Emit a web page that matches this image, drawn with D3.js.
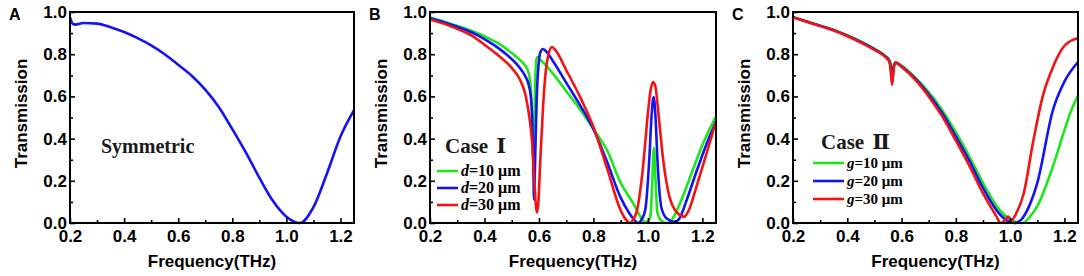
<!DOCTYPE html>
<html>
<head>
<meta charset="utf-8">
<script src="https://cdn.jsdelivr.net/npm/d3@7"></script>
<style>
  body { margin: 0; background: #fff; }
  text { font-family: Arial, "Liberation Sans", sans-serif; }
</style>
</head>
<body>
<svg id="chart" width="1084" height="276"></svg>
<script>
// axis ticks
const xMajor = [0.2, 0.4, 0.6, 0.8, 1.0, 1.2];
const xMinor = [0.3, 0.5, 0.7, 0.9, 1.1];
const yMajor = [0.0, 0.2, 0.4, 0.6, 0.8, 1.0];
const yMinor = [0.1, 0.3, 0.5, 0.7, 0.9];

// panel A: symmetric structure, [frequency THz, transmission]
const symmetric = [
  [0.20, 0.975], [0.21, 0.945], [0.22, 0.94], [0.25, 0.948], [0.30, 0.945],
  [0.35, 0.928], [0.40, 0.905], [0.45, 0.876], [0.50, 0.842], [0.55, 0.80],
  [0.60, 0.75], [0.65, 0.698], [0.70, 0.632], [0.75, 0.55], [0.80, 0.445],
  [0.85, 0.335], [0.90, 0.215], [0.95, 0.105], [1.00, 0.03], [1.05, 0.0],
  [1.10, 0.075], [1.15, 0.235], [1.20, 0.41], [1.25, 0.535]
];

// panel B: case I, varying d
const caseI_d10 = [
  [0.20, 0.975], [0.25, 0.955], [0.30, 0.935], [0.35, 0.912], [0.40, 0.885],
  [0.45, 0.852], [0.50, 0.806], [0.53, 0.773], [0.55, 0.745], [0.56, 0.72],
  [0.567, 0.68], [0.572, 0.6], [0.576, 0.45], [0.579, 0.3], [0.582, 0.4],
  [0.586, 0.65], [0.59, 0.77], [0.594, 0.787], [0.60, 0.78], [0.62, 0.755],
  [0.65, 0.71], [0.70, 0.625], [0.75, 0.54], [0.80, 0.445], [0.85, 0.345],
  [0.90, 0.19], [0.95, 0.085], [0.97, 0.035], [0.99, 0.005], [1.002, 0.01],
  [1.01, 0.04], [1.016, 0.2], [1.022, 0.355], [1.028, 0.2], [1.035, 0.05],
  [1.05, 0.01], [1.07, 0.0], [1.09, 0.02], [1.12, 0.1], [1.15, 0.2],
  [1.20, 0.37], [1.25, 0.505]
];
const caseI_d20 = [
  [0.20, 0.97], [0.25, 0.952], [0.30, 0.93], [0.35, 0.905], [0.40, 0.872],
  [0.45, 0.83], [0.50, 0.777], [0.53, 0.735], [0.55, 0.695], [0.56, 0.665],
  [0.57, 0.6], [0.575, 0.5], [0.579, 0.3], [0.582, 0.11], [0.586, 0.3],
  [0.592, 0.6], [0.60, 0.77], [0.607, 0.815], [0.615, 0.825], [0.625, 0.815],
  [0.65, 0.77], [0.70, 0.665], [0.75, 0.56], [0.80, 0.445], [0.85, 0.29],
  [0.90, 0.12], [0.93, 0.05], [0.95, 0.015], [0.964, 0.0], [0.978, 0.02],
  [0.99, 0.06], [1.005, 0.3], [1.013, 0.5], [1.021, 0.597], [1.028, 0.5],
  [1.035, 0.3], [1.05, 0.07], [1.07, 0.02], [1.10, 0.005], [1.115, 0.02],
  [1.14, 0.1], [1.18, 0.25], [1.22, 0.39], [1.25, 0.48]
];
const caseI_d30 = [
  [0.20, 0.965], [0.25, 0.945], [0.30, 0.92], [0.35, 0.89], [0.40, 0.845],
  [0.45, 0.795], [0.50, 0.735], [0.53, 0.68], [0.55, 0.61], [0.565, 0.5],
  [0.575, 0.38], [0.583, 0.2], [0.589, 0.08], [0.593, 0.05], [0.598, 0.1],
  [0.605, 0.3], [0.615, 0.55], [0.625, 0.72], [0.635, 0.8], [0.648, 0.834],
  [0.66, 0.82], [0.70, 0.725], [0.75, 0.6], [0.80, 0.455], [0.85, 0.26],
  [0.90, 0.06], [0.92, 0.015], [0.934, 0.0], [0.945, 0.015], [0.96, 0.06],
  [0.98, 0.24], [1.00, 0.52], [1.01, 0.63], [1.019, 0.668], [1.027, 0.65],
  [1.04, 0.5], [1.056, 0.3], [1.08, 0.12], [1.10, 0.06], [1.133, 0.03],
  [1.15, 0.06], [1.18, 0.18], [1.22, 0.35], [1.25, 0.48]
];

// panel C: case II, varying g
const caseII_g10 = [
  [0.20, 0.975], [0.25, 0.955], [0.30, 0.935], [0.35, 0.915], [0.40, 0.89],
  [0.45, 0.86], [0.50, 0.826], [0.54, 0.792], [0.555, 0.772], [0.562, 0.745],
  [0.566, 0.72], [0.571, 0.745], [0.578, 0.76], [0.60, 0.745], [0.65, 0.69],
  [0.70, 0.62], [0.75, 0.535], [0.80, 0.43], [0.85, 0.315], [0.90, 0.19],
  [0.95, 0.08], [1.00, 0.018], [1.045, 0.0], [1.07, 0.025], [1.10, 0.08],
  [1.158, 0.27], [1.20, 0.44], [1.219, 0.513], [1.25, 0.605]
];
const caseII_g20 = [
  [0.20, 0.975], [0.25, 0.955], [0.30, 0.935], [0.35, 0.914], [0.40, 0.888],
  [0.45, 0.858], [0.50, 0.823], [0.54, 0.79], [0.555, 0.768], [0.561, 0.73],
  [0.566, 0.68], [0.571, 0.74], [0.578, 0.76], [0.60, 0.743], [0.65, 0.685],
  [0.70, 0.61], [0.75, 0.52], [0.80, 0.41], [0.85, 0.295], [0.90, 0.166],
  [0.95, 0.06], [0.99, 0.01], [1.015, 0.0], [1.04, 0.015], [1.07, 0.08],
  [1.10, 0.19], [1.158, 0.537], [1.20, 0.67], [1.25, 0.763]
];
const caseII_g30 = [
  [0.20, 0.975], [0.25, 0.954], [0.30, 0.933], [0.35, 0.912], [0.40, 0.885],
  [0.45, 0.855], [0.50, 0.82], [0.54, 0.787], [0.555, 0.765], [0.56, 0.72],
  [0.565, 0.655], [0.571, 0.73], [0.578, 0.76], [0.60, 0.74], [0.65, 0.68],
  [0.70, 0.6], [0.75, 0.505], [0.80, 0.39], [0.85, 0.27], [0.90, 0.14],
  [0.95, 0.03], [0.965, 0.0], [0.98, 0.012], [0.993, 0.03], [1.005, 0.012],
  [1.02, 0.04], [1.05, 0.14], [1.084, 0.38], [1.12, 0.6], [1.158, 0.74],
  [1.20, 0.84], [1.25, 0.877]
];

const green = "#1ee61e", blue = "#1414f0", red = "#f01414";
const serif = "'Liberation Serif', 'Times New Roman', serif";

const svg = d3.select("#chart");
const plotTop = 12, plotBottom = 223;

function drawPanel(opts) {
  const x = d3.scaleLinear().domain([0.2, 1.25]).range([opts.left, opts.right]);
  const y = d3.scaleLinear().domain([0, 1]).range([plotBottom, plotTop]);
  const g = svg.append("g");

  // curves
  const line = d3.line()
    .x(d => x(d[0]))
    .y(d => y(d[1]))
    .curve(d3.curveMonotoneX);
  opts.series.forEach(s => {
    g.append("path")
      .datum(s.data)
      .attr("fill", "none")
      .attr("stroke", s.color)
      .attr("stroke-width", 2.6)
      .attr("stroke-linejoin", "round")
      .attr("d", line);
  });

  // x axis (inward ticks)
  const xa = g.append("g").attr("transform", `translate(0,${plotBottom})`);
  xa.call(d3.axisBottom(x).tickValues(xMajor).tickSize(-5).tickPadding(7)
    .tickFormat(d3.format(".1f")));
  xa.append("g").call(d3.axisBottom(x).tickValues(xMinor).tickSize(-3).tickFormat(""));

  // y axis
  const ya = g.append("g").attr("transform", `translate(${opts.left},0)`);
  ya.call(d3.axisLeft(y).tickValues(yMajor).tickSize(-5).tickPadding(3)
    .tickFormat(d3.format(".1f")));
  ya.append("g").call(d3.axisLeft(y).tickValues(yMinor).tickSize(-3).tickFormat(""));

  g.selectAll(".domain").remove();
  g.selectAll(".tick line").attr("stroke", "#000").attr("stroke-width", 1.6);
  g.selectAll(".tick text")
    .style("font-size", "17px")
    .style("font-weight", "bold")
    .attr("fill", "#000");

  // frame
  g.append("rect")
    .attr("x", opts.left).attr("y", plotTop)
    .attr("width", opts.right - opts.left).attr("height", plotBottom - plotTop)
    .attr("fill", "none").attr("stroke", "#000").attr("stroke-width", 2);

  // axis titles
  g.append("text")
    .attr("x", (opts.left + opts.right) / 2).attr("y", 267)
    .attr("text-anchor", "middle")
    .style("font-size", "17px").style("font-weight", "bold")
    .text("Frequency(THz)");
  g.append("text")
    .attr("transform", `translate(${opts.left - 43},${(plotTop + plotBottom) / 2 - 4}) rotate(-90)`)
    .attr("text-anchor", "middle")
    .style("font-size", "17px").style("font-weight", "bold")
    .text("Transmission");

  // panel letter
  g.append("text")
    .attr("x", opts.left - 61).attr("y", 20)
    .style("font-size", "16px").style("font-weight", "bold")
    .text(opts.letter);

  return { g, x, y };
}

function drawLegend(g, lx, word, numeral, titleY, rows, rowY, lineLen, fontSize) {
  const title = g.append("text")
    .attr("x", lx + 8).attr("y", titleY)
    .style("font-family", serif)
    .style("font-size", "21px").style("font-weight", "bold")
    .attr("fill", "#1a1a1a");
  title.append("tspan").text(word);
  title.append("tspan").attr("dx", 8)
    .style("font-family", "'DejaVu Serif', serif")
    .text(numeral);
  rows.forEach((r, i) => {
    const yy = rowY[i];
    g.append("line")
      .attr("x1", lx).attr("x2", lx + lineLen)
      .attr("y1", yy).attr("y2", yy)
      .attr("stroke", r.color).attr("stroke-width", 2.6);
    const t = g.append("text")
      .attr("x", lx + lineLen + 3).attr("y", yy + 5)
      .style("font-family", serif)
      .style("font-size", fontSize + "px").style("font-weight", "bold");
    t.append("tspan").style("font-style", "italic").text(r.sym);
    t.append("tspan").text(r.label);
  });
}

// Panel A
const pA = drawPanel({
  left: 70, right: 354, letter: "A",
  series: [{ data: symmetric, color: blue }]
});
pA.g.append("text")
  .attr("x", 101).attr("y", 153)
  .style("font-family", serif)
  .style("font-size", "20px").style("font-weight", "bold")
  .attr("fill", "#1a1a1a")
  .text("Symmetric");

// Panel B
const pB = drawPanel({
  left: 430, right: 716, letter: "B",
  series: [
    { data: caseI_d10, color: green },
    { data: caseI_d20, color: blue },
    { data: caseI_d30, color: red }
  ]
});
drawLegend(pB.g, 437, "Case", "\u2160", 153, [
  { sym: "d", label: "=10 \u03bcm", color: green },
  { sym: "d", label: "=20 \u03bcm", color: blue },
  { sym: "d", label: "=30 \u03bcm", color: red }
], [171, 188, 205], 21, 16);

// Panel C
const pC = drawPanel({
  left: 793, right: 1078, letter: "C",
  series: [
    { data: caseII_g10, color: green },
    { data: caseII_g20, color: blue },
    { data: caseII_g30, color: red }
  ]
});
drawLegend(pC.g, 813, "Case", "\u2161", 149, [
  { sym: "g", label: "=10 \u03bcm", color: green },
  { sym: "g", label: "=20 \u03bcm", color: blue },
  { sym: "g", label: "=30 \u03bcm", color: red }
], [163, 181, 199], 31, 15);
</script>
</body>
</html>
